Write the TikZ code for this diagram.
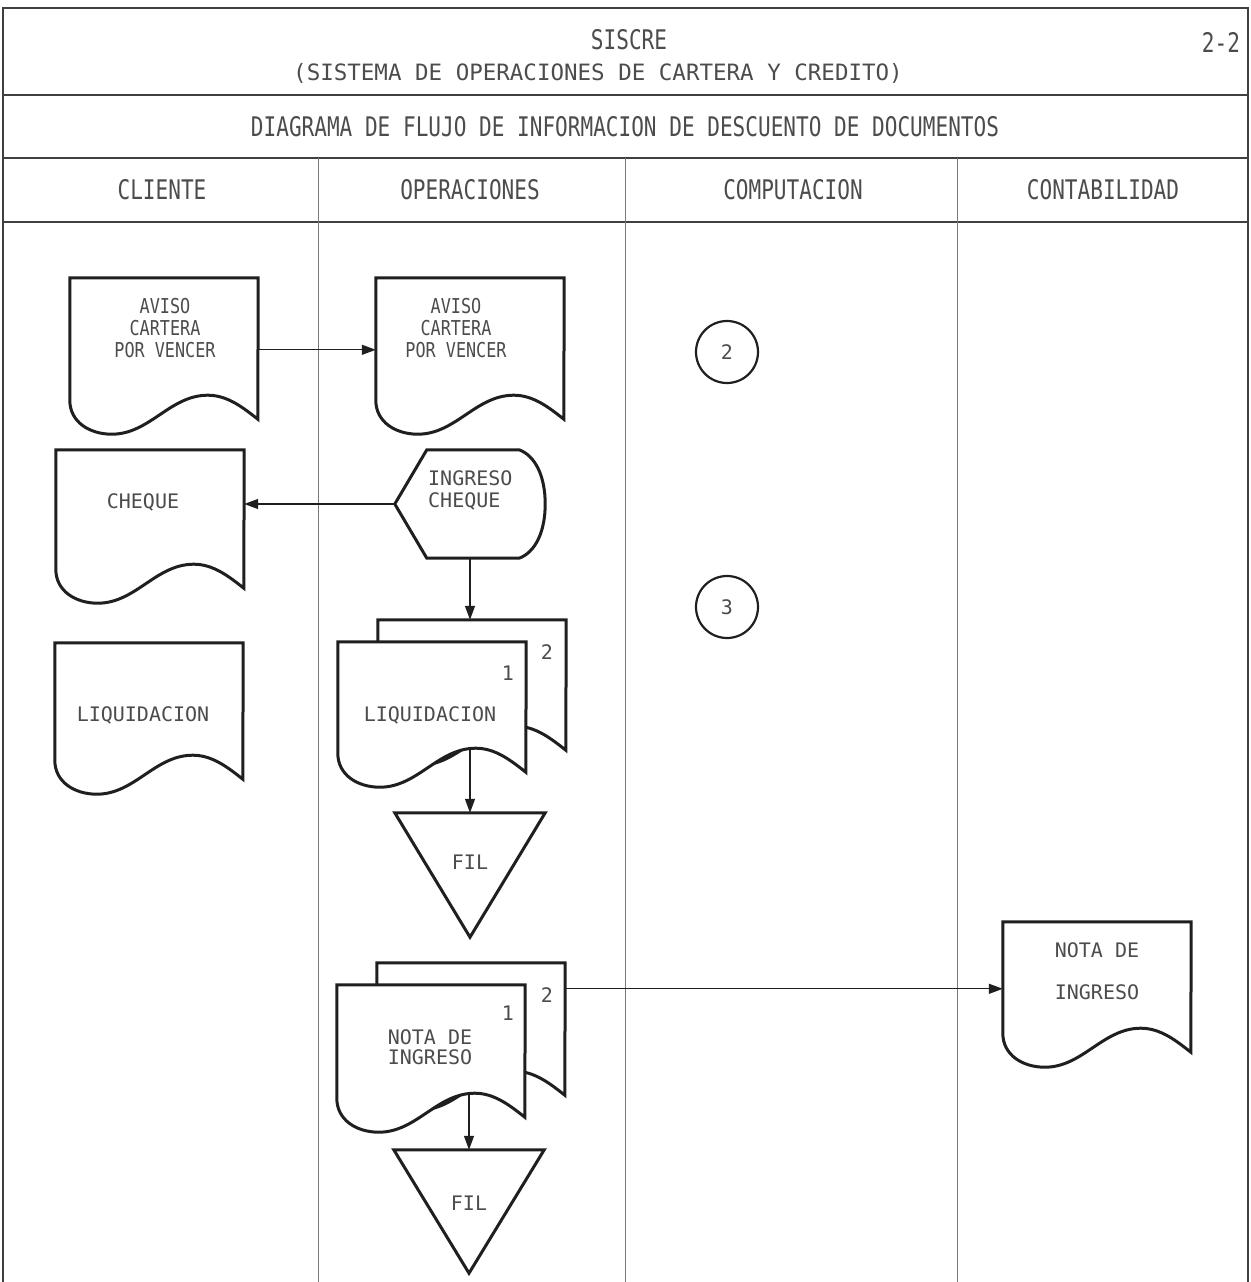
\documentclass[tikz,border=0pt]{standalone}
\usepackage{fontspec}
\usetikzlibrary{arrows.meta,calc}
\newfontfamily\hfont[FakeStretch=0.78]{DejaVu Sans Mono}
\newfontfamily\mfont{DejaVu Sans Mono}
\newfontfamily\nfont[FakeStretch=0.82]{DejaVu Sans Mono}
\definecolor{ink}{gray}{0.12}
\definecolor{txt}{gray}{0.30}
\tikzset{
  frame/.style={line width=1.8pt, draw=ink!85},
  lane/.style={line width=0.9pt, draw=ink!60},
  shp/.style={line width=3pt, draw=ink, fill=white, line join=miter},
  docn/.style={minimum width=188pt, inner sep=0pt, draw=none},
  boxn/.style={inner sep=0pt, draw=none},
  arr/.style={line width=1.3pt, draw=ink, -{Triangle[length=14pt,width=10pt]}},
  ttl/.style={font=\hfont\fontsize{27}{30}\selectfont, text=txt, inner sep=0pt},
  sub/.style={font=\mfont\fontsize{22.5}{24}\selectfont, text=txt, inner sep=0pt},
  lbl/.style={font=\mfont\fontsize{20}{22}\selectfont, text=txt, inner sep=0pt, align=center},
  nlbl/.style={font=\nfont\fontsize{20.5}{22}\selectfont, text=txt, inner sep=0pt, align=center},
  conn/.style={circle, draw=ink, line width=2.2pt, minimum size=62pt, inner sep=0pt,
     font=\mfont\fontsize{20}{22}\selectfont, text=txt},
}
\newcommand\docline[1]{%
  \path[shp] (#1.north east) -- (#1.north west) -- (#1.south west)
    .. controls +(0,-22) and +(-22,0) .. ++(42,-34)
    .. controls +(38,0) and +(-38,0) .. ++(96,39)
    .. controls +(20,0) and +(-14,11) .. ++(50,-24)
    -- cycle;}
\newcommand\filtri[1]{%
  \path[shp] (#1.north west) -- (#1.north east) -- (#1.south) -- cycle;}
\begin{document}
\begin{tikzpicture}[x=1pt,y=1pt]
\useasboundingbox (0,0) rectangle (1250,-1282);
% frame
\draw[frame] (3,-1282) -- (3,-8) -- (1248,-8) -- (1248,-1282);
\draw[frame] (3,-95) -- (1248,-95);
\draw[frame] (3,-158) -- (1248,-158);
\draw[frame] (3,-222) -- (1248,-222);
\draw[lane] (318,-158) -- (318,-1282);
\draw[lane] (625,-158) -- (625,-1282);
\draw[lane] (957,-158) -- (957,-1282);
% titles
\node[ttl] (t1a) at (629,-40) {SISCRE};
\node[sub] (t1b) at (598,-73) {(SISTEMA DE OPERACIONES DE CARTERA Y CREDITO)};
\node[ttl] (pg) at (1221,-42) {2-2};
\node[ttl] (t2) at (625,-127) {DIAGRAMA DE FLUJO DE INFORMACION DE DESCUENTO DE DOCUMENTOS};
\node[ttl] (h1) at (162,-190) {CLIENTE};
\node[ttl] (h2) at (470,-190) {OPERACIONES};
\node[ttl] (h3) at (793,-190) {COMPUTACION};
\node[ttl] (h4) at (1103,-190) {CONTABILIDAD};
% documents
\node[docn, minimum height=122pt] (c1) at (164,-339) {};
\docline{c1}
\node[nlbl] (c1t) at (165,-328) {AVISO\\CARTERA\\POR VENCER};
\node[docn, minimum height=122pt] (o1) at (470,-339) {};
\docline{o1}
\node[nlbl] (o1t) at (456,-328) {AVISO\\CARTERA\\POR VENCER};
\node[docn, minimum height=119pt] (c2) at (150,-509.5) {};
\docline{c2}
\node[lbl] (c2t) at (143,-502) {CHEQUE};
\node[docn, minimum height=117pt] (c3) at (149,-701.5) {};
\docline{c3}
\node[lbl] (c3t) at (143,-715) {LIQUIDACION};
% display
\node[boxn, minimum width=150pt, minimum height=108pt] (hx) at (470,-504) {};
\path[shp] (hx.west) -- ($(hx.north west)+(32,0)$) -- ($(hx.north east)+(-26,0)$)
  .. controls +(16,-6) and +(0,28) .. (hx.east)
  .. controls +(0,-28) and +(16,6) .. ($(hx.south east)+(-26,0)$)
  -- ($(hx.south west)+(32,0)$) -- cycle;
\node[lbl, align=left, anchor=west] (hxt) at (428,-490) {INGRESO\\CHEQUE};
% multi doc liquidacion
\node[docn, minimum height=111pt] (b1) at (472,-675.5) {};
\docline{b1}
\node[docn, minimum height=111pt] (f1) at (432,-697.5) {};
\docline{f1}
\node[lbl] (b1n) at (547,-652) {2};
\node[lbl] (f1n) at (508,-673) {1};
\node[lbl] (f1t) at (430,-715) {LIQUIDACION};
\node[boxn, minimum width=150pt, minimum height=124pt] (tr1) at (470,-875) {};
\filtri{tr1}
\node[lbl] (tr1t) at (470,-862) {FIL};
% multi doc nota de ingreso
\node[docn, minimum height=113pt] (b2) at (471,-1019.5) {};
\docline{b2}
\node[docn, minimum height=113pt] (f2) at (431,-1041.5) {};
\docline{f2}
\node[lbl] (b2n) at (547,-995) {2};
\node[lbl] (f2n) at (508,-1013) {1};
\node[lbl, font=\mfont\fontsize{20}{20}\selectfont] (f2t) at (430,-1047) {NOTA DE\\INGRESO};
\node[boxn, minimum width=150pt, minimum height=123pt] (tr2) at (469,-1211.5) {};
\filtri{tr2}
\node[lbl] (tr2t) at (469,-1203) {FIL};
% contabilidad doc
\node[docn, minimum height=111pt] (k1) at (1097,-977.5) {};
\docline{k1}
\node[lbl, font=\mfont\fontsize{20}{42}\selectfont] (k1t) at (1097,-971) {NOTA DE\\INGRESO};
% connectors (circles)
\node[conn] (n2) at (727,-352) {2};
\node[conn] (n3) at (727,-607) {3};
% arrows
\draw[arr] ($(c1.north east)+(0,-72)$) -- ($(o1.north west)+(0,-72)$);
\draw[arr] (hx.west) -- (c2.east |- hx.west);
\draw[arr] (hx.south) -- (hx.south |- b1.north);
\coordinate (f1w) at (470,-750);
\draw[arr] (f1w) -- (tr1.north);
\coordinate (q) at ($(b2.north east)+(0,-26)$);
\draw[arr] (q) -- (k1.west |- q);
\coordinate (f2w) at (469,-1093);
\draw[arr] (f2w) -- (tr2.north);
\end{tikzpicture}
\end{document}
